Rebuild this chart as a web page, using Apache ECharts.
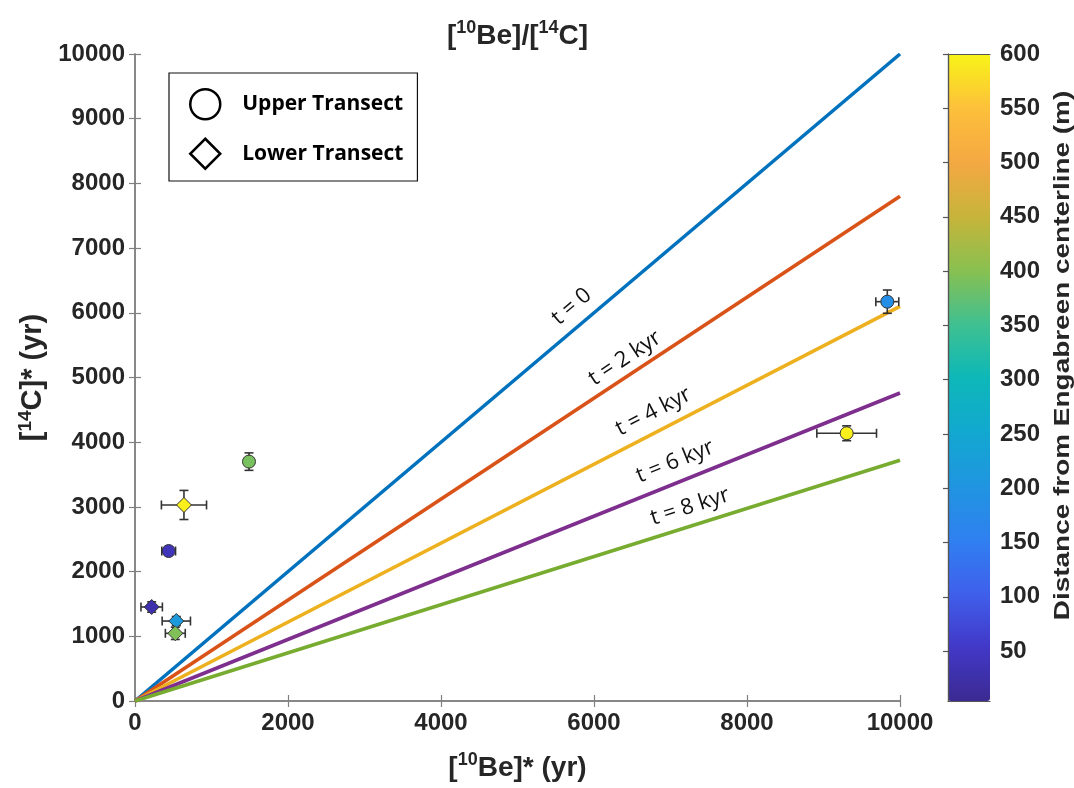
<!DOCTYPE html>
<html><head><meta charset="utf-8">
<script src="https://cdn.jsdelivr.net/npm/echarts@6/dist/echarts.min.js"></script>
<style>html,body{margin:0;padding:0;background:#fff}#c{width:1074px;height:788px}</style>
</head><body><div id="c"></div>
<script>
// ---- data ----
const xTicks = [0, 2000, 4000, 6000, 8000, 10000];
const yTicks = [0, 1000, 2000, 3000, 4000, 5000, 6000, 7000, 8000, 9000, 10000];
const colorbarTicks = [50, 100, 150, 200, 250, 300, 350, 400, 450, 500, 550, 600];
const colorbarRange = [4, 600];

const lineNames = ['t = 0', 't = 2 kyr', 't = 4 kyr', 't = 6 kyr', 't = 8 kyr'];
const lineEndX = 10000;
const lineEndY = [10000, 7800, 6100, 4760, 3720];

// Upper transect (circles)
const upperX    = [1490, 440, 9834, 9303];
const upperY    = [3700, 2318, 6172, 4138];
const upperXErr = [40, 90, 150, 390];
const upperYErr = [135, 60, 180, 115];
const upperDist = [390, 40, 185, 595];

// Lower transect (diamonds)
const lowerX    = [640, 218, 540, 527];
const lowerY    = [3030, 1453, 1236, 1046];
const lowerXErr = [295, 140, 185, 130];
const lowerYErr = [225, 80, 70, 95];
const lowerDist = [595, 30, 215, 395];

// annotation anchors for the line labels (data coords)
const lineLabelAt = [[5708, 6094], [6405, 5297], [6776, 4471], [7059, 3699], [7255, 3003]];

// ---- styles ----
const lineColors = ['#0072BD', '#D95319', '#EDB120', '#7E2F8E', '#77AC30'];
const cmap = ['#3b2a92', '#4238c8', '#3f60ec', '#2f80f0', '#2095e0', '#12a8d0', '#0db8b8',
              '#40c090', '#8ac050', '#c8b43a', '#f5a843', '#fdc03a', '#f8f418'];
const AX = '#262626';
const AXLINE = '#808080';
const FONT = '"Liberation Sans", Arial, sans-serif';
const LFONT = '"Open Sans", Lato, sans-serif';
const lbl = { color: AX, fontWeight: 'bold', fontSize: 24, fontFamily: FONT };
const plain = v => String(v);

const chart = echarts.init(document.getElementById('c'), null, { renderer: 'canvas' });

const G = { left: 135, top: 54, width: 765, height: 647 };
const CB = { left: 948, top: 54, width: 42, height: 647 };

function errRender(params, api) {
  const x = api.value(0), y = api.value(1), ex = api.value(2), ey = api.value(3);
  const l = api.coord([x - ex, y]), r = api.coord([x + ex, y]);
  const t = api.coord([x, y + ey]), b = api.coord([x, y - ey]);
  const cap = 4.5;
  const st = { stroke: '#333', lineWidth: 1.6 };
  const ln = (x1, y1, x2, y2) => ({ type: 'line', shape: { x1, y1, x2, y2 }, style: st });
  return {
    type: 'group', children: [
      ln(l[0], l[1], r[0], r[1]),
      ln(l[0], l[1] - cap, l[0], l[1] + cap),
      ln(r[0], r[1] - cap, r[0], r[1] + cap),
      ln(t[0], t[1], b[0], b[1]),
      ln(t[0] - cap, t[1], t[0] + cap, t[1]),
      ln(b[0] - cap, b[1], b[0] + cap, b[1])
    ]
  };
}

const series = [];
lineNames.forEach((n, i) => {
  series.push({
    name: n, type: 'line', xAxisIndex: 0, yAxisIndex: 0,
    data: [[0, 0], [lineEndX, lineEndY[i]]],
    symbol: 'none', lineStyle: { color: lineColors[i], width: 3.6 },
    z: 2, silent: true
  });
});
series.push({
  name: 'errU', type: 'custom', xAxisIndex: 0, yAxisIndex: 0, renderItem: errRender,
  encode: { x: 0, y: 1 }, z: 3,
  data: upperX.map((x, i) => [x, upperY[i], upperXErr[i], upperYErr[i]])
});
series.push({
  name: 'errL', type: 'custom', xAxisIndex: 0, yAxisIndex: 0, renderItem: errRender,
  encode: { x: 0, y: 1 }, z: 3,
  data: lowerX.map((x, i) => [x, lowerY[i], lowerXErr[i], lowerYErr[i]])
});
const upperIdx = series.length;
series.push({
  name: 'Upper Transect', type: 'scatter', xAxisIndex: 0, yAxisIndex: 0,
  symbol: 'circle', symbolSize: 13, z: 5,
  itemStyle: { borderColor: '#333', borderWidth: 1, opacity: 1 },
  data: upperX.map((x, i) => [x, upperY[i], upperDist[i]])
});
const lowerIdx = series.length;
series.push({
  name: 'Lower Transect', type: 'scatter', xAxisIndex: 0, yAxisIndex: 0,
  symbol: 'diamond', symbolSize: 15, z: 5,
  itemStyle: { borderColor: '#333', borderWidth: 1, opacity: 1 },
  data: lowerX.map((x, i) => [x, lowerY[i], lowerDist[i]])
});

const richSup = (fs) => ({
  b: { fontSize: fs, fontWeight: 'bold', color: AX, fontFamily: FONT, lineHeight: 34 },
  s: { fontSize: Math.round(fs * 0.65), fontWeight: 'bold', color: AX, fontFamily: FONT, verticalAlign: 'top', lineHeight: 34 }
});
const tickIn = (len, color) => ({ show: true, inside: true, length: len, lineStyle: { color: color, width: 1.2 } });

const option = {
  backgroundColor: '#fff',
  animation: false,
  title: {
    text: '{b|[}{s|10}{b|Be]/[}{s|14}{b|C]}',
    left: G.left + G.width / 2 - 5, top: 14, textAlign: 'center',
    textStyle: { rich: richSup(28) }
  },
  legend: {
    orient: 'vertical', left: 169, top: 73,
    padding: [15, 14, 11, 20],
    itemWidth: 30, itemHeight: 30, itemGap: 17,
    backgroundColor: '#fff', borderColor: '#111', borderWidth: 1.2, borderRadius: 0,
    selectedMode: false,
    textStyle: { fontFamily: LFONT, fontWeight: 'bold', fontSize: 21, color: '#000', padding: [0, 0, 0, 17] },
    data: [
      { name: 'Upper Transect', icon: 'circle', itemStyle: { color: 'rgba(0,0,0,0)', borderColor: '#000', borderWidth: 2.5 } },
      { name: 'Lower Transect', icon: 'diamond', itemStyle: { color: 'rgba(0,0,0,0)', borderColor: '#000', borderWidth: 2.5 } }
    ]
  },
  visualMap: {
    type: 'continuous', min: colorbarRange[0], max: colorbarRange[1], dimension: 2,
    seriesIndex: [upperIdx, lowerIdx],
    inRange: { color: cmap },
    left: CB.left, top: CB.top, itemWidth: CB.width, itemHeight: CB.height,
    padding: 0, calculable: false, text: null, showLabel: false, z: 1,
    hoverLink: false
  },
  grid: [
    { left: G.left, top: G.top, width: G.width, height: G.height },
    { left: CB.left, top: CB.top, width: CB.width, height: CB.height }
  ],
  xAxis: [
    {
      gridIndex: 0, type: 'value', min: 0, max: 10000, interval: 2000, position: 'bottom',
      axisLine: { show: true, lineStyle: { color: AXLINE, width: 1.5 } },
      axisTick: tickIn(6, AXLINE),
      axisLabel: Object.assign({ margin: 10, formatter: plain }, lbl),
      splitLine: { show: false },
      name: '{b|[}{s|10}{b|Be]* (yr)}', nameLocation: 'middle', nameGap: 50,
      nameTextStyle: { rich: richSup(28) }
    },
    {
      gridIndex: 0, type: 'value', min: 0, max: 10000, interval: 2000, position: 'top',
      axisLine: { show: true, lineStyle: { color: AXLINE, width: 1.5 } },
      axisTick: tickIn(6, AXLINE),
      axisLabel: { show: false }, splitLine: { show: false }
    },
    {
      gridIndex: 1, type: 'value', min: 0, max: 1, position: 'bottom', z: 10,
      axisLine: { show: true, lineStyle: { color: '#555', width: 1.2 } },
      axisTick: { show: false }, axisLabel: { show: false }, splitLine: { show: false }
    },
    {
      gridIndex: 1, type: 'value', min: 0, max: 1, position: 'top', z: 10,
      axisLine: { show: true, lineStyle: { color: '#555', width: 1.2 } },
      axisTick: { show: false }, axisLabel: { show: false }, splitLine: { show: false }
    }
  ],
  yAxis: [
    {
      gridIndex: 0, type: 'value', min: 0, max: 10000, interval: 1000, position: 'left',
      axisLine: { show: true, lineStyle: { color: AXLINE, width: 1.5 } },
      axisTick: tickIn(6, AXLINE),
      axisLabel: Object.assign({ margin: 10, formatter: plain }, lbl),
      splitLine: { show: false },
      name: '{b|[}{s|14}{b|C]* (yr)}', nameLocation: 'middle', nameGap: 77, nameRotate: 90,
      nameTextStyle: { rich: richSup(29) }
    },
    {
      gridIndex: 0, type: 'value', min: 0, max: 10000, interval: 1000, position: 'right',
      axisLine: { show: true, lineStyle: { color: AXLINE, width: 1.5 } },
      axisTick: tickIn(6, AXLINE),
      axisLabel: { show: false }, splitLine: { show: false }
    },
    {
      gridIndex: 1, type: 'value', min: 0, max: 1, position: 'left', z: 10,
      axisLine: { show: true, lineStyle: { color: '#555', width: 1.2 } },
      axisTick: { show: false }, axisLabel: { show: false }, splitLine: { show: false }
    },
    {
      gridIndex: 1, type: 'value', min: colorbarRange[0], max: colorbarRange[1], position: 'right', z: 10,
      axisLine: { show: true, lineStyle: { color: '#555', width: 1.2 } },
      axisTick: Object.assign(tickIn(5, '#555'), { customValues: colorbarTicks }),
      axisLabel: Object.assign({ margin: 10, customValues: colorbarTicks, formatter: plain }, lbl),
      splitLine: { show: false }
    }
  ],
  series: series
};
chart.setOption(option);

// rotated labels along the lines
const graphics = lineNames.map((n, i) => {
  const p = chart.convertToPixel({ gridIndex: 0 }, lineLabelAt[i]);
  const a = chart.convertToPixel({ gridIndex: 0 }, [0, 0]);
  const b = chart.convertToPixel({ gridIndex: 0 }, [lineEndX, lineEndY[i]]);
  const ang = Math.atan2(a[1] - b[1], b[0] - a[0]);
  return {
    type: 'text', x: p[0], y: p[1], rotation: ang, z: 20,
    style: {
      text: n, fill: '#111', fontSize: 22, fontFamily: LFONT,
      align: 'center', verticalAlign: 'middle'
    }
  };
});
// colorbar title (vertical, reads bottom to top)
graphics.push({
  type: 'text', x: CB.left + CB.width + 73, y: CB.top + CB.height / 2 - 22,
  rotation: Math.PI / 2, scaleX: 1.27, z: 20,
  style: {
    text: 'Distance from Engabreen centerline (m)', fill: AX, fontSize: 22, fontWeight: 'bold',
    fontFamily: FONT, align: 'center', verticalAlign: 'middle'
  }
});
chart.setOption({ graphic: graphics });
</script>
</body></html>
